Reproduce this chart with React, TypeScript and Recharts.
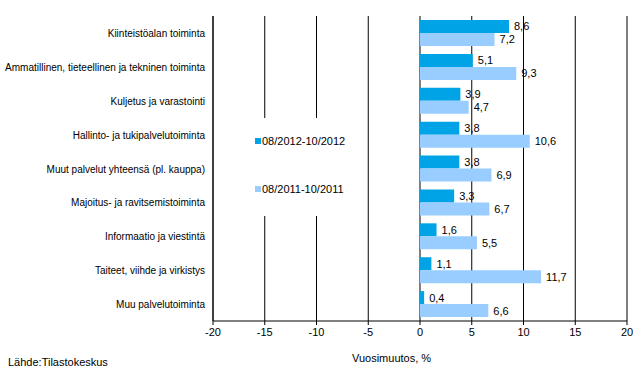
import React from "react";
import {
  BarChart,
  Bar,
  XAxis,
  YAxis,
  CartesianGrid,
  LabelList,
} from "recharts";

const categories = [
  "Kiinteistöalan toiminta",
  "Ammatillinen, tieteellinen ja tekninen toiminta",
  "Kuljetus ja varastointi",
  "Hallinto- ja tukipalvelutoiminta",
  "Muut palvelut yhteensä (pl. kauppa)",
  "Majoitus- ja ravitsemistoiminta",
  "Informaatio ja viestintä",
  "Taiteet, viihde ja virkistys",
  "Muu palvelutoiminta",
];

const values2012 = [8.6, 5.1, 3.9, 3.8, 3.8, 3.3, 1.6, 1.1, 0.4];
const values2011 = [7.2, 9.3, 4.7, 10.6, 6.9, 6.7, 5.5, 11.7, 6.6];

const xTicks = [-20, -15, -10, -5, 0, 5, 10, 15, 20];

const SERIES = [
  { key: "a", name: "08/2012-10/2012", color: "#00A3E6" },
  { key: "b", name: "08/2011-10/2011", color: "#99CCFF" },
];

const FONT = "Arial, 'Liberation Sans', sans-serif";

const fmt = (v: any) => Number(v).toFixed(1).replace(".", ",");

// single-line category label, right aligned against the axis
const CatTick = (props: any) => {
  const { x, y, payload } = props;
  const long = String(payload.value).length > 40;
  return (
    <text
      x={x}
      y={y}
      dy={4}
      textAnchor="end"
      fontSize={10}
      fill="#000"
      fontFamily={FONT}
      textLength={long ? 200 : undefined}
      lengthAdjust={long ? "spacingAndGlyphs" : undefined}
    >
      {payload.value}
    </text>
  );
};

export default function App() {
  const data = categories.map((name, i) => ({
    name,
    a: values2012[i],
    b: values2011[i],
  }));

  return (
    <div
      style={{
        position: "absolute",
        left: 0,
        top: 0,
        width: 643,
        height: 388,
        background: "#fff",
        fontFamily: FONT,
      }}
    >
      <BarChart
        width={643}
        height={388}
        data={data}
        layout="vertical"
        margin={{ top: 16, right: 16, left: 0, bottom: 37 }}
        barCategoryGap={4}
        barGap={0}
      >
        <CartesianGrid
          horizontal={false}
          vertical={true}
          stroke="#000"
          strokeWidth={1}
        />
        <XAxis
          type="number"
          domain={[-20, 20]}
          ticks={xTicks}
          interval={0}
          tickSize={4}
          tickMargin={3}
          axisLine={{ stroke: "#000" }}
          tickLine={{ stroke: "#000" }}
          tick={{ fontSize: 11, fill: "#000", fontFamily: FONT }}
          height={30}
        />
        <XAxis
          xAxisId="top"
          orientation="top"
          type="number"
          domain={[-20, 20]}
          ticks={xTicks}
          tick={false}
          tickLine={false}
          axisLine={{ stroke: "#000" }}
          height={0}
        />
        <YAxis
          type="category"
          dataKey="name"
          width={213}
          tickLine={false}
          axisLine={{ stroke: "#000" }}
          interval={0}
          tick={<CatTick />}
        />
        {SERIES.map((s) => (
          <Bar
            key={s.key}
            dataKey={s.key}
            name={s.name}
            fill={s.color}
            isAnimationActive={false}
          >
            <LabelList
              dataKey={s.key}
              position="right"
              offset={5}
              formatter={fmt}
              style={{ fontSize: 11, fill: "#000", fontFamily: FONT }}
            />
          </Bar>
        ))}
      </BarChart>

      {/* legend box inside plot */}
      <div
        style={{
          position: "absolute",
          left: 250,
          top: 118,
          width: 112,
          height: 98,
          background: "#fff",
          fontSize: 11,
          color: "#000",
        }}
      >
        {SERIES.map((s, i) => (
          <div
            key={s.key}
            style={{
              position: "absolute",
              left: 5,
              top: 17 + i * 48,
              display: "flex",
              alignItems: "center",
              whiteSpace: "nowrap",
            }}
          >
            <span
              style={{
                display: "inline-block",
                width: 6,
                height: 6,
                background: s.color,
                marginRight: 1,
              }}
            />
            {s.name}
          </div>
        ))}
      </div>

      <div
        style={{
          position: "absolute",
          left: 352,
          top: 352,
          fontSize: 11,
          color: "#000",
          whiteSpace: "nowrap",
        }}
      >
        Vuosimuutos, %
      </div>
      <div
        style={{
          position: "absolute",
          left: 8,
          top: 356,
          fontSize: 11,
          color: "#000",
          whiteSpace: "nowrap",
        }}
      >
        Lähde:Tilastokeskus
      </div>
    </div>
  );
}
